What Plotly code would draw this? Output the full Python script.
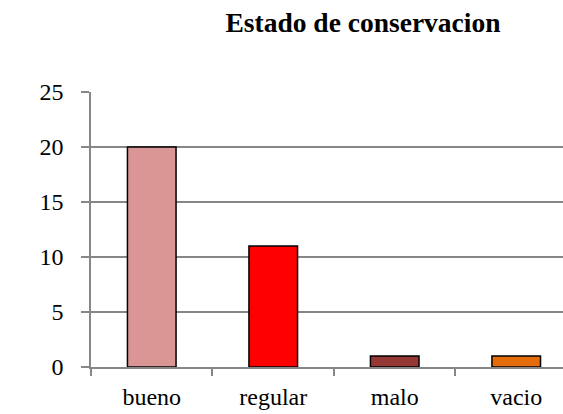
import plotly.graph_objects as go

# Conservation state counts
categorias = ["bueno", "regular", "malo", "vacio"]
valores = [20, 11, 1, 1]
colores = ["#D99694", "#FF0000", "#953735", "#E46C0A"]
ticks_y = [0, 5, 10, 15, 20, 25]

FONT = "Liberation Serif"
GRID = "#878787"

fig = go.Figure(
    go.Bar(
        x=categorias,
        y=valores,
        marker=dict(color=colores, line=dict(color="#000000", width=1.5)),
        width=0.4,
    )
)

fig.update_layout(
    width=563,
    height=414,
    margin=dict(l=91, r=0, t=92, b=47),
    paper_bgcolor="white",
    plot_bgcolor="white",
    showlegend=False,
    font=dict(family=FONT, size=24, color="#000000"),
    title=dict(
        text="<b>Estado de conservacion</b>",
        font=dict(family=FONT, size=27.5, color="#000000"),
        x=363 / 563,
        xanchor="center",
        y=1 - 22 / 414,
        yanchor="middle",
    ),
)

fig.update_xaxes(
    type="category",
    range=[-0.5, 3.385],
    showline=True,
    linecolor=GRID,
    linewidth=1.5,
    ticks="outside",
    tickson="boundaries",
    ticklen=7,
    tickcolor=GRID,
    tickwidth=1.5,
    showgrid=False,
    ticklabelstandoff=7,
    tickfont=dict(family=FONT, size=24),
)

fig.update_yaxes(
    range=[0, 25],
    tickvals=ticks_y,
    showline=True,
    linecolor=GRID,
    linewidth=1.5,
    ticks="outside",
    ticklen=8,
    tickcolor=GRID,
    tickwidth=1.5,
    showgrid=True,
    gridcolor=GRID,
    gridwidth=1.5,
    zeroline=False,
    ticklabelstandoff=13,
    tickfont=dict(family=FONT, size=24),
)

fig.write_html("out.html")
